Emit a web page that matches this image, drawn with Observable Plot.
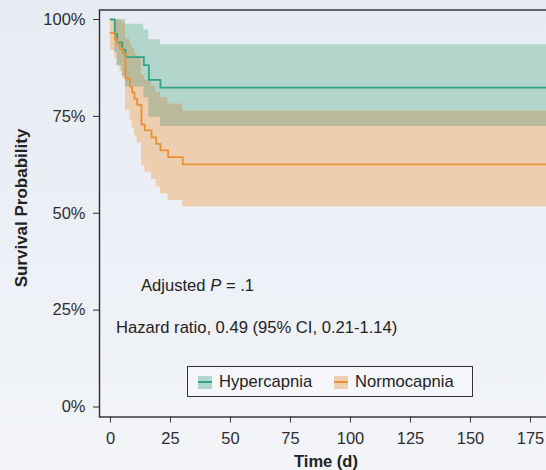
<!DOCTYPE html>
<html>
<head>
<meta charset="utf-8">
<script src="https://cdn.jsdelivr.net/npm/d3@7"></script>
<script src="https://cdn.jsdelivr.net/npm/@observablehq/plot@0.6"></script>
<style>
  html, body { margin: 0; padding: 0; width: 546px; height: 470px; overflow: hidden; }
  body { background: linear-gradient(#e7ebf3, #f2f4f8); font-family: "Liberation Sans", Arial, sans-serif; }
  #wrap { position: relative; width: 546px; height: 470px; }
  .ov { position: absolute; white-space: nowrap; color: #222; font-size: 16.6px; line-height: 1; }
  #ylab { left: 21px; top: 208px; font-weight: bold; font-size: 17px; transform: translate(-50%, -50%) rotate(-90deg); }
  #xlab { left: 326px; top: 461px; font-weight: bold; font-size: 16.5px; transform: translate(-50%, -50%); }
  #ann1 { left: 141px; top: 278px; }
  #ann2 { left: 116px; top: 320px; }
  #legend { position: absolute; left: 187px; top: 366px; width: 286px; height: 31px; border: 1.3px solid #333; box-sizing: border-box; background: rgba(255,255,255,0.35); font-size: 16.6px; color: #222; }
  .sw { position: absolute; width: 14px; height: 13px; top: 8.5px; }
  .sw::after { content: ""; position: absolute; left: 0; right: 0; top: 5.5px; height: 2px; background: var(--lc); }
  .lt { position: absolute; top: 7px; line-height: 1; }
</style>
</head>
<body>
<div id="wrap"></div>
<script>
// Hypercapnia (green) Kaplan-Meier estimate with 95% CI
const hyperTime  = [0, 1.8, 2.8, 4.9, 6.25, 13.9, 16.0, 20.8, 185];
const hyperSurv  = [100, 96.3, 94.1, 92.2, 90.3, 88.2, 84.4, 82.4, 82.4];
const hyperLower = [100, 91.5, 88.0, 85.3, 82.6, 79.8, 74.8, 72.4, 72.4];
const hyperUpper = [100, 100, 100, 100, 98.8, 97.3, 94.8, 93.5, 93.5];

// Normocapnia (orange)
const normoTime  = [0, 1.8, 2.8, 3.9, 5.0, 6.25, 8.1, 9.0, 10.0, 11.1, 12.9, 14.3, 17.1, 19.0, 20.8, 24.0, 30.1, 185];
const normoSurv  = [96.5, 94.8, 93.7, 92.5, 91.2, 84.8, 82.7, 81.2, 79.5, 78.0, 72.9, 71.4, 69.6, 67.9, 66.2, 64.5, 62.6, 62.6];
const normoLower = [92.0, 89.8, 88.2, 86.5, 84.8, 76.5, 74.0, 72.0, 70.0, 68.1, 62.3, 60.6, 58.7, 56.8, 55.0, 53.3, 51.6, 51.6];
const normoUpper = [100, 100, 100, 99.8, 99.2, 95.0, 93.6, 92.6, 91.2, 90.0, 85.7, 84.4, 82.8, 81.3, 79.8, 78.2, 76.3, 76.3];

const xTicks = [0, 25, 50, 75, 100, 125, 150, 175];
const yTicks = [0, 25, 50, 75, 100];
const groups = ["Hypercapnia", "Normocapnia"];

const colors = {
  hyperLine: "#2ea586", hyperBand: "#b2d6cb",
  normoLine: "#ea8f38", normoBand: "#edceae",
  overlap: "#b9b99b"
};

function table(time, surv, lower, upper) {
  return time.map((t, i) => ({t, s: surv[i], lo: lower[i], hi: upper[i]}));
}
const hyper = table(hyperTime, hyperSurv, hyperLower, hyperUpper);
const normo = table(normoTime, normoSurv, normoLower, normoUpper);

// overlap of the two confidence bands (derived from the arrays above)
function stepAt(rows, t) {
  let r = rows[0];
  for (const row of rows) if (row.t <= t) r = row;
  return r;
}
const allT = Array.from(new Set([...hyperTime, ...normoTime])).sort((a, b) => a - b);
const overlap = allT.map(t => {
  const a = stepAt(hyper, t), b = stepAt(normo, t);
  const lo = Math.max(a.lo, b.lo), hi = Math.min(a.hi, b.hi);
  return {t, lo, hi: Math.max(lo, hi)};
});

const chart = Plot.plot({
  width: 560,
  height: 470,
  marginLeft: 99,
  marginRight: 6,
  marginTop: 9.5,
  marginBottom: 53.5,
  style: {background: "transparent", maxWidth: "none", overflow: "visible", fontFamily: "'Liberation Sans', Arial, sans-serif"},
  x: {domain: [-4.58, 185]},
  y: {domain: [-2.58, 102.45]},
  marks: [
    Plot.areaY(hyper, {x: "t", y1: "lo", y2: "hi", curve: "step-after", fill: colors.hyperBand}),
    Plot.areaY(normo, {x: "t", y1: "lo", y2: "hi", curve: "step-after", fill: colors.normoBand}),
    Plot.areaY(overlap, {x: "t", y1: "lo", y2: "hi", curve: "step-after", fill: colors.overlap}),
    Plot.line(hyper, {x: "t", y: "s", curve: "step-after", stroke: colors.hyperLine, strokeWidth: 1.8}),
    Plot.line(normo, {x: "t", y: "s", curve: "step-after", stroke: colors.normoLine, strokeWidth: 1.8}),
    Plot.frame({stroke: "#2b2b2b", strokeWidth: 1.4}),
    Plot.axisX({ticks: xTicks, tickSize: 6, tickPadding: 9, label: null, fontSize: 16.5, color: "#2e2e2e", stroke: "#333"}),
    Plot.axisY({ticks: yTicks, tickSize: 6, tickPadding: 8, label: null, fontSize: 16.5, color: "#2e2e2e", tickFormat: d => d + "%"})
  ]
});

const wrap = document.getElementById("wrap");
wrap.appendChild(chart);

function addText(id, html) {
  const d = document.createElement("div");
  d.className = "ov"; d.id = id; d.innerHTML = html;
  wrap.appendChild(d);
}
addText("ylab", "Survival Probability");
addText("xlab", "Time (d)");
addText("ann1", "Adjusted <i>P</i> = .1");
addText("ann2", "Hazard ratio, 0.49 (95% CI, 0.21-1.14)");

const leg = document.createElement("div");
leg.id = "legend";
const legItems = [
  {label: groups[0], band: colors.hyperBand, line: colors.hyperLine, sx: 10, tx: 31},
  {label: groups[1], band: colors.normoBand, line: colors.normoLine, sx: 146, tx: 167}
];
for (const it of legItems) {
  const sw = document.createElement("div");
  sw.className = "sw";
  sw.style.left = it.sx + "px";
  sw.style.background = it.band;
  sw.style.setProperty("--lc", it.line);
  leg.appendChild(sw);
  const t = document.createElement("div");
  t.className = "lt";
  t.style.left = it.tx + "px";
  t.textContent = it.label;
  leg.appendChild(t);
}
wrap.appendChild(leg);
</script>
</body>
</html>
